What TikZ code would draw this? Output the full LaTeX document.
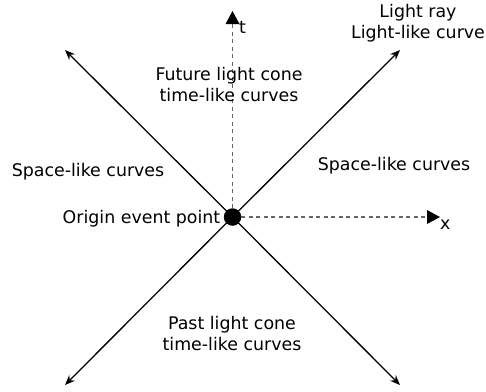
\documentclass[tikz,border=0pt]{standalone}
\usepackage{fontspec}
\setmainfont{DejaVu Sans}
\usetikzlibrary{arrows.meta}
\begin{document}
\begin{tikzpicture}[x=1pt,y=-1pt,
  lbl/.style={font=\fontsize{17.4}{20.5}\selectfont, inner sep=0pt, align=center},
  axis/.style={draw=black!60, line width=1.2pt, dash pattern=on 4pt off 3.5pt, -{Triangle[length=13pt,width=14pt,fill=black,line width=0pt]}},
  ray/.style={draw=black, line width=1.3pt, -{Stealth[length=10pt,width=8pt]}}]
\useasboundingbox (0,0) rectangle (486,391);
\node[circle, fill=black, minimum size=17.5pt, inner sep=0pt] (o) at (232.5,217) {};
\coordinate (tt) at (232.5,11);
\coordinate (xx) at (440,217);
\coordinate (tl) at (65,50);
\coordinate (tr) at (400,50);
\coordinate (bl) at (65,385);
\coordinate (br) at (400,385);
\draw[axis] (o) -- (tt);
\draw[axis] (o) -- (xx);
\draw[ray] (o.center) -- (tl);
\draw[ray] (o.center) -- (tr);
\draw[ray] (o.center) -- (bl);
\draw[ray] (o.center) -- (br);
\node[lbl, anchor=base west] (tlab) at (239,33) {t};
\node[lbl, anchor=base west] (xlab) at (440,229) {x};
\node[lbl, anchor=base] (light) at (418,38) {Light ray\\Light-like curve};
\node[lbl, anchor=base] (fut) at (229,101) {Future light cone\\time-like curves};
\node[lbl, anchor=base] (past) at (232,350) {Past light cone\\time-like curves};
\node[lbl, anchor=base] (sl) at (88,176) {Space-like curves};
\node[lbl, anchor=base] (sr) at (394,170) {Space-like curves};
\node[lbl, anchor=base east] (orig) at (220.5,223) {Origin event point};
\end{tikzpicture}
\end{document}
